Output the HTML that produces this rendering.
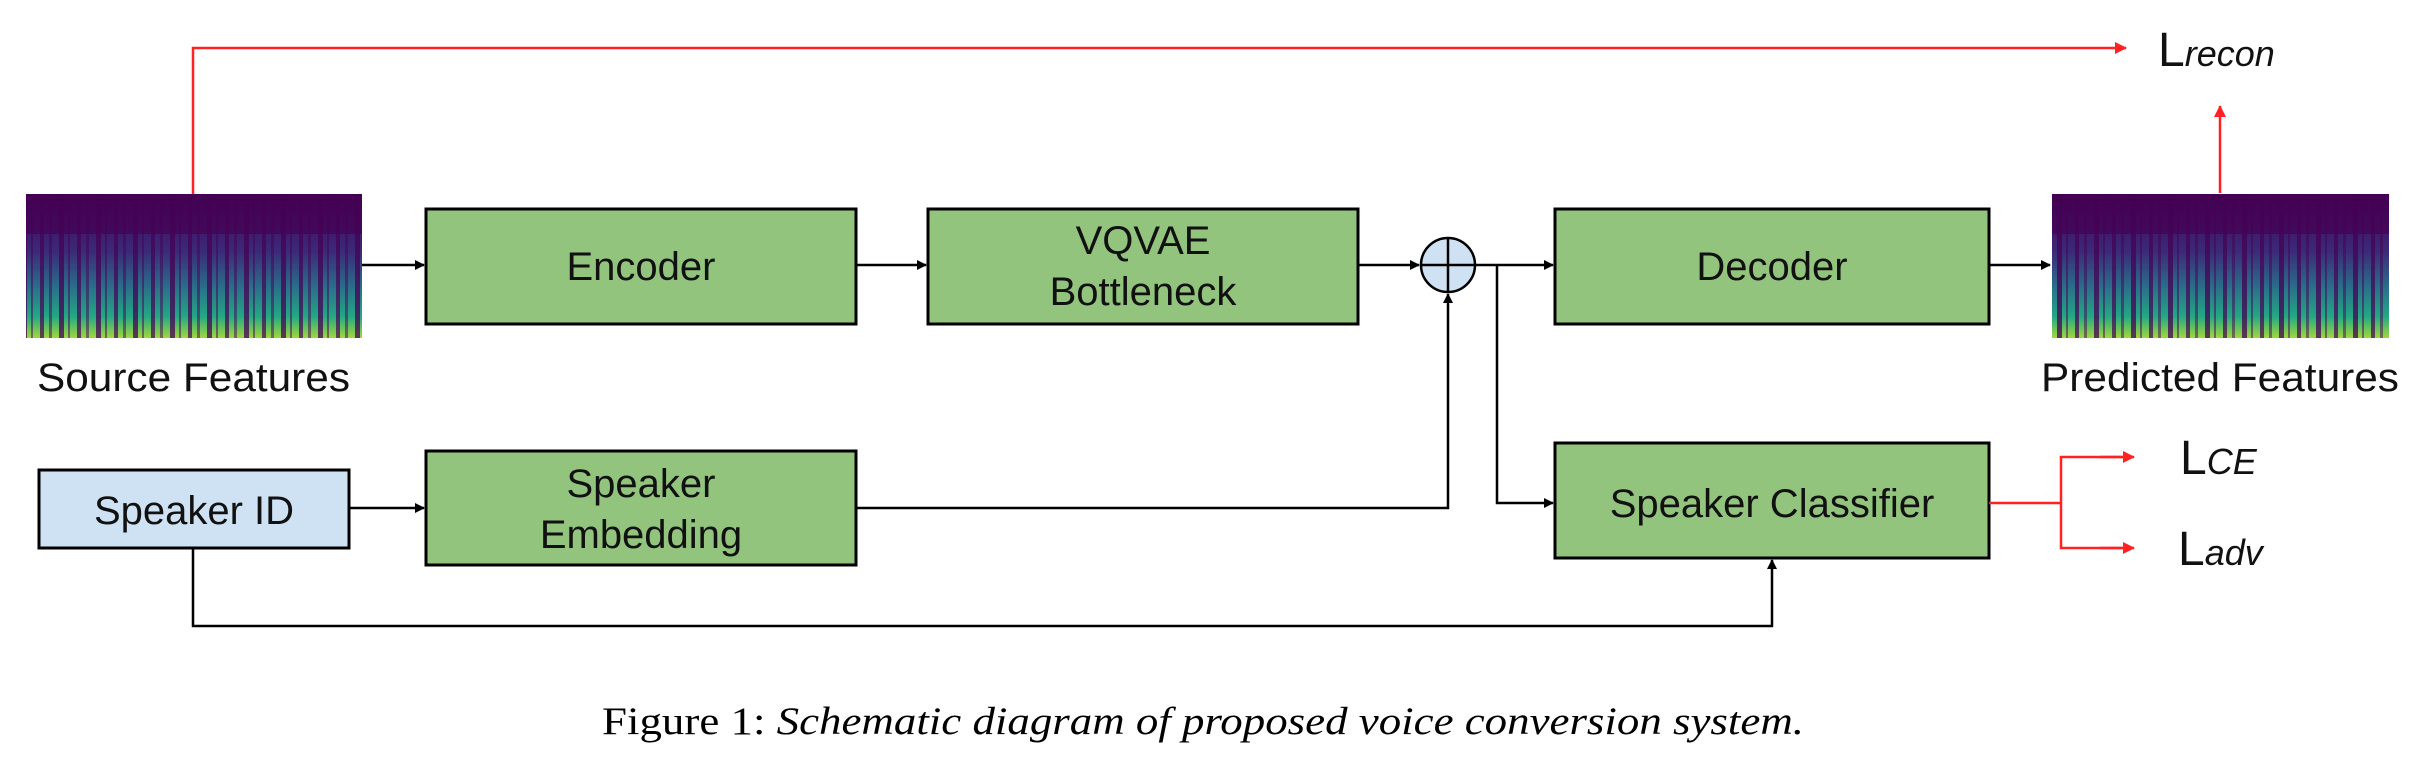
<!DOCTYPE html>
<html><head><meta charset="utf-8"><style>
html,body{margin:0;padding:0;background:#fff;}
svg{display:block;}
.lbl{font-family:"Liberation Sans",sans-serif;font-size:40px;fill:#111;}
</style></head><body>
<svg width="2435" height="765" viewBox="0 0 2435 765" xmlns="http://www.w3.org/2000/svg">
<defs>
<linearGradient id="sg" x1="0" y1="0" x2="0" y2="1">
<stop offset="0" stop-color="#440154"/>
<stop offset="0.4" stop-color="#3b2a78"/>
<stop offset="0.65" stop-color="#2a6f8a"/>
<stop offset="0.85" stop-color="#23a884"/>
<stop offset="1" stop-color="#9fd83c"/>
</linearGradient>
<pattern id="stripes" width="37" height="144" patternUnits="userSpaceOnUse">
<rect x="3" y="0" width="4" height="144" fill="#440154" opacity="0.7"/>
<rect x="12" y="0" width="3" height="144" fill="#440154" opacity="0.5"/>
<rect x="22" y="0" width="5" height="144" fill="#440154" opacity="0.75"/>
<rect x="31" y="0" width="2" height="144" fill="#440154" opacity="0.5"/>
</pattern>
<marker id="ab" markerWidth="10" markerHeight="10" refX="9" refY="5" orient="auto" markerUnits="userSpaceOnUse"><path d="M0,0 L10,5 L0,10 z" fill="#000"/></marker>
<marker id="ar" markerWidth="12" markerHeight="12" refX="11" refY="6" orient="auto" markerUnits="userSpaceOnUse"><path d="M0,0 L12,6 L0,12 z" fill="#f22"/></marker>
</defs>

<g>
<rect x="26" y="194" width="336" height="144" fill="url(#sg)"/>
<rect x="26" y="194" width="336" height="144" fill="url(#stripes)"/>
<rect x="26" y="194" width="336" height="40" fill="#440154" opacity="0.7"/>
</g>
<g>
<rect x="2052" y="194" width="337" height="144" fill="url(#sg)"/>
<rect x="2052" y="194" width="337" height="144" fill="url(#stripes)"/>
<rect x="2052" y="194" width="337" height="40" fill="#440154" opacity="0.7"/>
</g>
<text class="lbl" x="37" y="391" textLength="313" lengthAdjust="spacingAndGlyphs">Source Features</text>
<text class="lbl" x="2041" y="391" textLength="358" lengthAdjust="spacingAndGlyphs">Predicted Features</text>

<g stroke="#000" stroke-width="3" fill="#93c47d">
<rect x="426" y="209" width="430" height="115"/>
<rect x="928" y="209" width="430" height="115"/>
<rect x="1555" y="209" width="434" height="115"/>
<rect x="426" y="451" width="430" height="114"/>
<rect x="1555" y="443" width="434" height="115"/>
<rect x="39" y="470" width="310" height="78" fill="#cfe2f3"/>
</g>
<text class="lbl" x="641" y="280" text-anchor="middle">Encoder</text>
<text class="lbl" x="1143" y="254" text-anchor="middle">VQVAE</text>
<text class="lbl" x="1143" y="305" text-anchor="middle">Bottleneck</text>
<text class="lbl" x="1772" y="280" text-anchor="middle">Decoder</text>
<text class="lbl" x="641" y="497" text-anchor="middle">Speaker</text>
<text class="lbl" x="641" y="548" text-anchor="middle">Embedding</text>
<text class="lbl" x="1772" y="517" text-anchor="middle">Speaker Classifier</text>
<text class="lbl" x="194" y="524" text-anchor="middle">Speaker ID</text>

<ellipse cx="1448" cy="265" rx="27" ry="27" fill="#cfe2f3" stroke="#000" stroke-width="2.5"/>
<line x1="1421" y1="265" x2="1475" y2="265" stroke="#000" stroke-width="2.5"/>
<line x1="1448" y1="238" x2="1448" y2="292" stroke="#000" stroke-width="2.5"/>

<g stroke="#000" stroke-width="2.5" fill="none">
<line x1="362" y1="265" x2="424" y2="265" marker-end="url(#ab)"/>
<line x1="856" y1="265" x2="926" y2="265" marker-end="url(#ab)"/>
<line x1="1358" y1="265" x2="1419" y2="265" marker-end="url(#ab)"/>
<line x1="1475" y1="265" x2="1553" y2="265" marker-end="url(#ab)"/>
<line x1="1989" y1="265" x2="2050" y2="265" marker-end="url(#ab)"/>
<polyline points="1497,265 1497,503 1553,503" marker-end="url(#ab)"/>
<line x1="349" y1="508" x2="424" y2="508" marker-end="url(#ab)"/>
<polyline points="856,508 1448,508 1448,294" marker-end="url(#ab)"/>
<polyline points="193,548 193,626 1772,626 1772,560" marker-end="url(#ab)"/>
</g>

<g stroke="#f22" stroke-width="2.5" fill="none">
<polyline points="193,194 193,48 2126,48" marker-end="url(#ar)"/>
<line x1="2220" y1="193" x2="2220" y2="106" marker-end="url(#ar)"/>
<line x1="1989" y1="503" x2="2061" y2="503"/>
<polyline points="2132,457 2061,457 2061,548 2132,548"/>
<line x1="2100" y1="457" x2="2134" y2="457" marker-end="url(#ar)"/>
<line x1="2100" y1="548" x2="2134" y2="548" marker-end="url(#ar)"/>
</g>

<g font-family="Liberation Sans, sans-serif" fill="#111">
<text x="2158" y="66" font-size="48">L<tspan font-style="italic" font-size="36">recon</tspan></text>
<text x="2180" y="474" font-size="48">L<tspan font-style="italic" font-size="36">CE</tspan></text>
<text x="2178" y="565" font-size="48">L<tspan font-style="italic" font-size="36">adv</tspan></text>
</g>

<text x="602" y="734" style="font-family:'Liberation Serif',serif" font-size="39" fill="#000" textLength="1202" lengthAdjust="spacingAndGlyphs">Figure 1: <tspan font-style="italic">Schematic diagram of proposed voice conversion system.</tspan></text>
</svg>
</body></html>
